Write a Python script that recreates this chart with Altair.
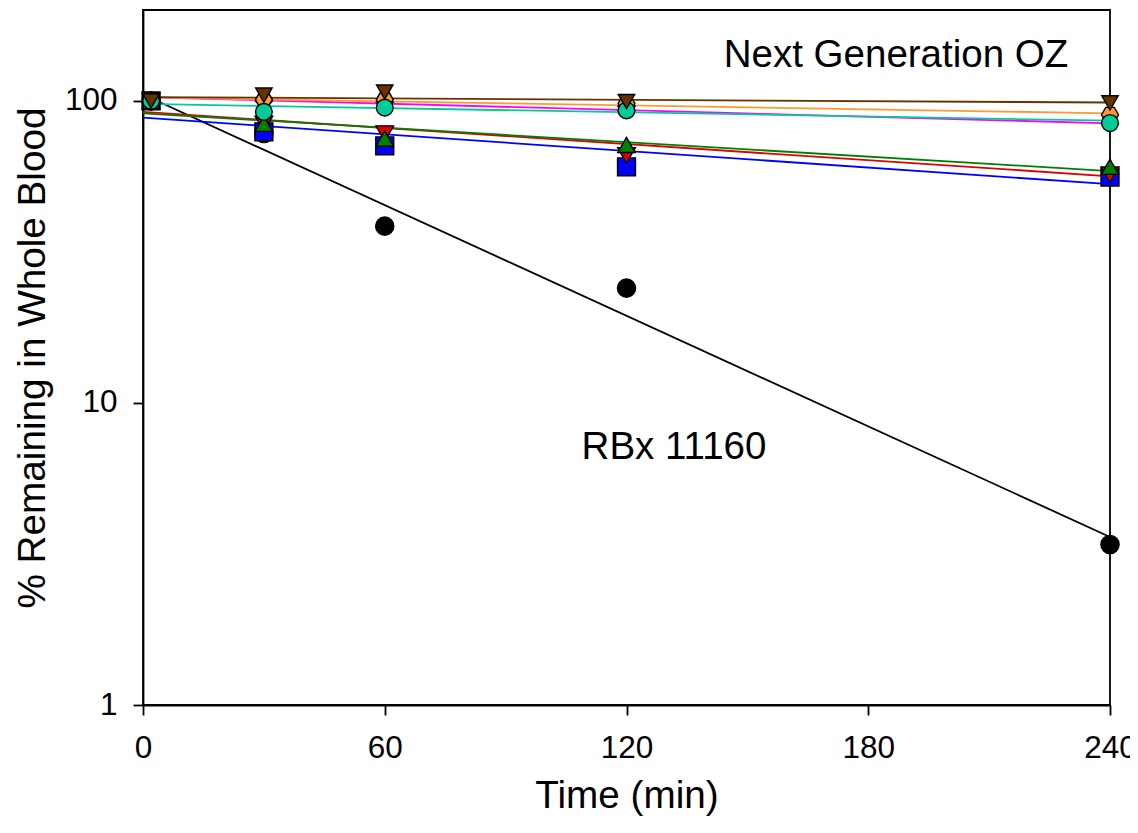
import altair as alt
import pandas as pd

# ---- data ----
times = [2, 30, 60, 120, 240]
series_names = ["RBx 11160", "OZ blue", "OZ red", "OZ green",
                "OZ magenta", "OZ orange", "OZ teal", "OZ brown"]

rbx_11160 = [100, 78, 38.5, 24, 3.4]
oz_blue = [100, 79, 71, 60.5, 56]
oz_red = [100, 84, 78, 66, 57]
oz_green = [100, 84, 75, 71.5, 60.5]
oz_magenta = [100, 100, 99, 96, 84]
oz_orange = [100, 101, 101, 98, 90]
oz_teal = [100, 92, 95, 93, 84.5]
oz_brown = [100, 104.5, 107, 99.5, 98.5]

# fitted (log-linear) lines: values at t = 0 and t = 240
fit_times = [0, 240]
fit_rbx_11160 = [105, 3.6]
fit_oz_blue = [88, 53]
fit_oz_red = [92, 56.3]
fit_oz_green = [91, 58.6]
fit_oz_magenta = [103, 84.3]
fit_oz_orange = [102.7, 91]
fit_oz_teal = [97.8, 86]
fit_oz_brown = [103, 98.8]

annotation_labels = ["Next Generation OZ", "RBx 11160"]

# ---- styles ----
colors = ["#000000", "#0000FF", "#DD0000", "#008000",
          "#FF00FF", "#FF9933", "#00CC99", "#663300"]
hexagon = "M-1,0L-0.5,-0.866L0.5,-0.866L1,0L0.5,0.866L-0.5,0.866Z"
shapes = ["circle", "square", "triangle-down", "triangle-up",
          "diamond", hexagon, "circle", "triangle-down"]
sizes = [330, 270, 310, 310, 430, 390, 330, 310]

point_values = [rbx_11160, oz_blue, oz_red, oz_green,
                oz_magenta, oz_orange, oz_teal, oz_brown]
fit_values = [fit_rbx_11160, fit_oz_blue, fit_oz_red, fit_oz_green,
              fit_oz_magenta, fit_oz_orange, fit_oz_teal, fit_oz_brown]

rows = []
for i, (name, vals) in enumerate(zip(series_names, point_values)):
    for t, v in zip(times, vals):
        rows.append({"series": name, "order": i, "time": t, "value": v})
points_df = pd.DataFrame(rows)

frows = []
for i, (name, vals) in enumerate(zip(series_names, fit_values)):
    for t, v in zip(fit_times, vals):
        frows.append({"series": name, "order": i, "time": t, "value": v})
fits_df = pd.DataFrame(frows)

FONT = "Liberation Sans"

x_enc = alt.X("time:Q",
              scale=alt.Scale(domain=[0, 240], nice=False, zero=False),
              axis=alt.Axis(values=[0, 60, 120, 180, 240], title="Time (min)",
                            labelFlush=False, labelPadding=17,
                            titlePadding=13))
y_enc = alt.Y("value:Q",
              scale=alt.Scale(type="log", domain=[1, 200], nice=False),
              axis=alt.Axis(values=[1, 10, 100], format="d",
                            title="% Remaining in Whole Blood",
                            labelFlush=False, labelPadding=16,
                            titlePadding=12))
color_enc = alt.Color("series:N",
                      scale=alt.Scale(domain=series_names, range=colors),
                      legend=None)

lines = alt.Chart(fits_df).mark_line(strokeWidth=1.8, clip=False).encode(
    x=x_enc, y=y_enc, color=color_enc, detail="series:N",
    order="time:Q"
)

points = alt.Chart(points_df).mark_point(
    filled=True, stroke="black", strokeWidth=1.4, opacity=1
).encode(
    x=x_enc, y=y_enc,
    fill=alt.Fill("series:N",
                  scale=alt.Scale(domain=series_names, range=colors),
                  legend=None),
    shape=alt.Shape("series:N",
                    scale=alt.Scale(domain=series_names, range=shapes),
                    legend=None),
    size=alt.Size("series:N",
                  scale=alt.Scale(domain=series_names, range=sizes),
                  legend=None),
    order=alt.Order("order:Q"),
)

label1 = alt.Chart(pd.DataFrame({"label": [annotation_labels[0]]})).mark_text(
    font=FONT, fontSize=38.5, align="center", baseline="middle", color="black"
).encode(x=alt.value(753), y=alt.value(45), text="label:N")

label2 = alt.Chart(pd.DataFrame({"label": [annotation_labels[1]]})).mark_text(
    font=FONT, fontSize=38.5, align="center", baseline="middle", color="black"
).encode(x=alt.value(531), y=alt.value(437), text="label:N")

chart = alt.layer(lines, points, label1, label2).properties(
    width=967, height=695,
    autosize=alt.AutoSizeParams(type="none"),
    padding={"left": 135, "top": 2, "right": 20, "bottom": 115},
    background="white",
).configure_view(
    stroke="black", strokeWidth=1.8
).configure_axis(
    grid=False,
    domainColor="black", domainWidth=1.8,
    tickColor="black", tickWidth=1.8, tickSize=10,
    labelFont=FONT, labelFontSize=31.5, labelColor="black",
    titleFont=FONT, titleFontSize=38.7, titleFontWeight="normal",
    titleColor="black",
)

chart.save("out.html", embed_options={"renderer": "svg", "actions": False})
